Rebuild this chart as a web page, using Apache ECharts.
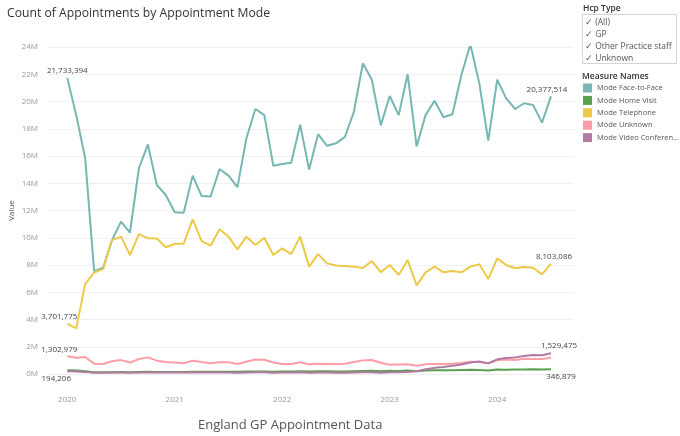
<!DOCTYPE html>
<html>
<head>
<meta charset="utf-8">
<script src="https://cdn.jsdelivr.net/npm/echarts@6/dist/echarts.min.js"></script>
<style>
html,body{margin:0;padding:0;background:#fff;}
#chart{width:680px;height:436px;}
</style>
</head>
<body>
<div id="chart"></div>
<script>
// Values in millions of appointments, monthly Jan 2020 .. Jul 2024
var startYear = 2020;
var yearTicks = ['2020', '2021', '2022', '2023', '2024'];
var yTicksM = [0, 2, 4, 6, 8, 10, 12, 14, 16, 18, 20, 22, 24];

var faceToFace = [
  21.733394, 19.0, 15.85, 7.55, 7.8, 9.83, 11.18, 10.37, 15.1, 16.85, 13.87, 13.14,
  11.87, 11.84, 14.56, 13.06, 13.03, 15.05, 14.56, 13.72, 17.3, 19.45, 19.0, 15.29,
  15.41, 15.5, 18.3, 15.0, 17.6, 16.75, 16.93, 17.4, 19.25, 22.8, 21.6, 18.25,
  20.4, 19.0, 22.0, 16.7, 19.0, 20.06, 18.84, 19.06, 21.94, 24.2, 21.33, 17.13,
  21.6, 20.23, 19.45, 19.87, 19.74, 18.45, 20.377514
];
var homeVisit = [
  0.27, 0.25, 0.20, 0.12, 0.12, 0.13, 0.14, 0.13, 0.15, 0.16, 0.15, 0.15,
  0.15, 0.15, 0.17, 0.16, 0.16, 0.17, 0.17, 0.16, 0.18, 0.19, 0.19, 0.17,
  0.19, 0.19, 0.21, 0.18, 0.20, 0.20, 0.19, 0.19, 0.21, 0.22, 0.23, 0.20,
  0.23, 0.22, 0.25, 0.21, 0.26, 0.27, 0.27, 0.27, 0.30, 0.31, 0.30, 0.26,
  0.33, 0.32, 0.33, 0.33, 0.34, 0.33, 0.346879
];
var telephone = [
  3.701775, 3.35, 6.6, 7.45, 7.7, 9.83, 10.08, 8.73, 10.27, 9.96, 9.95, 9.3,
  9.56, 9.56, 11.35, 9.75, 9.42, 10.62, 10.08, 9.15, 10.08, 9.47, 10.0, 8.73,
  9.22, 8.8, 10.08, 7.88, 8.8, 8.12, 7.97, 7.93, 7.88, 7.78, 8.29, 7.47,
  8.0, 7.27, 8.37, 6.5, 7.46, 7.88, 7.46, 7.56, 7.46, 7.88, 8.05, 6.97,
  8.49, 8.0, 7.76, 7.85, 7.8, 7.31, 8.103086
];
var unknownMode = [
  1.302979, 1.20, 1.25, 0.76, 0.74, 0.93, 1.02, 0.84, 1.10, 1.22, 0.98, 0.88,
  0.84, 0.79, 0.98, 0.88, 0.79, 0.86, 0.86, 0.74, 0.90, 1.07, 1.05, 0.84,
  0.74, 0.73, 0.86, 0.71, 0.76, 0.74, 0.73, 0.76, 0.88, 1.00, 1.03, 0.82,
  0.68, 0.70, 0.72, 0.61, 0.72, 0.73, 0.73, 0.76, 0.80, 0.90, 0.88, 0.78,
  1.00, 1.06, 1.02, 1.12, 1.10, 1.10, 1.20
];
var videoOnline = [
  0.194206, 0.18, 0.15, 0.10, 0.10, 0.11, 0.11, 0.10, 0.11, 0.12, 0.11, 0.11,
  0.11, 0.11, 0.12, 0.11, 0.11, 0.11, 0.11, 0.10, 0.11, 0.12, 0.12, 0.10,
  0.11, 0.11, 0.12, 0.10, 0.11, 0.11, 0.10, 0.10, 0.11, 0.12, 0.12, 0.10,
  0.12, 0.12, 0.15, 0.20, 0.35, 0.45, 0.52, 0.60, 0.70, 0.85, 0.92, 0.78,
  1.08, 1.18, 1.22, 1.32, 1.40, 1.38, 1.529475
];

var seriesNames = ['Mode Face-to-Face', 'Mode Home Visit', 'Mode Telephone', 'Mode Unknown', 'Mode Video Conference/Online'];
var seriesColors = ['#76b7b2', '#59a14f', '#edc948', '#ff9da7', '#b07aa1'];
var seriesValues = [faceToFace, homeVisit, telephone, unknownMode, videoOnline];
var hcpItems = ['(All)', 'GP', 'Other Practice staff', 'Unknown'];

// endpoint labels: [series index, 'first'|'last', position, dx]
var endLabels = [
  [0, 'first', 'top', 0], [0, 'last', 'top', -4],
  [2, 'first', 'top', -8], [2, 'last', 'top', 3],
  [3, 'first', 'top', -8],
  [4, 'first', 'bottom', -11], [4, 'last', 'top', 8],
  [1, 'last', 'bottom', 10]
];

function fmtCount(v) {
  return Math.round(v * 1e6).toLocaleString('en-US');
}

var series = seriesValues.map(function (vals, si) {
  var data = vals.map(function (v, i) { return { value: [i, v] }; });
  endLabels.forEach(function (l) {
    if (l[0] !== si) return;
    var idx = l[1] === 'first' ? 0 : vals.length - 1;
    data[idx].label = {
      show: true, position: l[2], offset: [l[3], 0], distance: 3,
      formatter: function (p) { return fmtCount(p.value[1]); },
      color: '#444', fontSize: 8, fontFamily: 'Open Sans'
    };
  });
  return {
    name: seriesNames[si],
    type: 'line',
    data: data,
    symbol: 'circle',
    symbolSize: 0,
    showSymbol: true,
    showAllSymbol: true,
    label: { show: false },
    lineStyle: { width: 2, color: seriesColors[si] },
    itemStyle: { color: seriesColors[si] },
    z: 2 + si
  };
});

var chart = echarts.init(document.getElementById('chart'), null, { renderer: 'canvas' });
chart.setOption({
  animation: false,
  backgroundColor: '#ffffff',
  title: {
    text: 'Count of Appointments by Appointment Mode',
    left: 7, top: 8, padding: 0,
    textStyle: { fontFamily: 'Open Sans', fontSize: 12.2, fontWeight: 'normal', color: '#333' }
  },
  grid: { left: 48, right: 106, top: 47, bottom: 62, containLabel: false, outerBoundsMode: 'none' },
  legend: {
    orient: 'vertical',
    left: 583, top: 83.5, padding: 0,
    icon: 'rect',
    itemWidth: 9, itemHeight: 9, itemGap: 3.4,
    data: seriesNames,
    formatter: function (n) { return n.length > 20 ? n.slice(0, 19) + '...' : n; },
    textStyle: { fontFamily: 'Open Sans', fontSize: 7.5, color: '#555' },
    selectedMode: false
  },
  xAxis: {
    type: 'value',
    min: -2.15, max: 56.57,
    offset: 17,
    axisLine: { show: true, lineStyle: { color: '#eeeeee', width: 1 } },
    axisTick: { show: false },
    splitLine: { show: false },
    axisLabel: {
      customValues: yearTicks.map(function (y) { return (Number(y) - startYear) * 12; }),
      formatter: function (v) { return String(startYear + Math.round(v / 12)); },
      color: '#999', fontSize: 8, fontFamily: 'Open Sans', margin: 5
    }
  },
  yAxis: {
    type: 'value',
    min: yTicksM[0], max: yTicksM[yTicksM.length - 1], interval: 2,
    name: 'Value',
    nameLocation: 'middle', nameGap: 32, nameRotate: 90, nameMoveOverlap: false,
    nameTextStyle: { color: '#555', fontSize: 8, fontFamily: 'Open Sans' },
    axisLine: { show: false },
    axisTick: { show: false },
    splitLine: { lineStyle: { color: '#f0f0f0', width: 1 } },
    axisLabel: {
      formatter: function (v) { return v + 'M'; },
      color: '#999', fontSize: 8, fontFamily: 'Open Sans', margin: 10
    }
  },
  graphic: [
    { type: 'text', left: 583, top: 4, style: { text: 'Hcp Type', font: '600 8.5px "Open Sans"', fill: '#333' } },
    { type: 'rect', shape: { x: 582.5, y: 14.5, width: 94, height: 49 }, style: { fill: 'none', stroke: '#d4d4d4', lineWidth: 1 } }
  ].concat(hcpItems.map(function (t, i) {
    return { type: 'text', left: 585, top: 18.5 + i * 12, style: { text: '\u2713 ' + t, font: '8.5px "Open Sans"', fill: '#555' } };
  })).concat([
    { type: 'text', left: 582, top: 72, style: { text: 'Measure Names', font: '600 8.5px "Open Sans"', fill: '#333' } },
    { type: 'text', left: 198, top: 419, style: { text: 'England GP Appointment Data', font: '13px "Open Sans"', fill: '#555' } }
  ]),
  series: series
});
</script>
</body>
</html>
